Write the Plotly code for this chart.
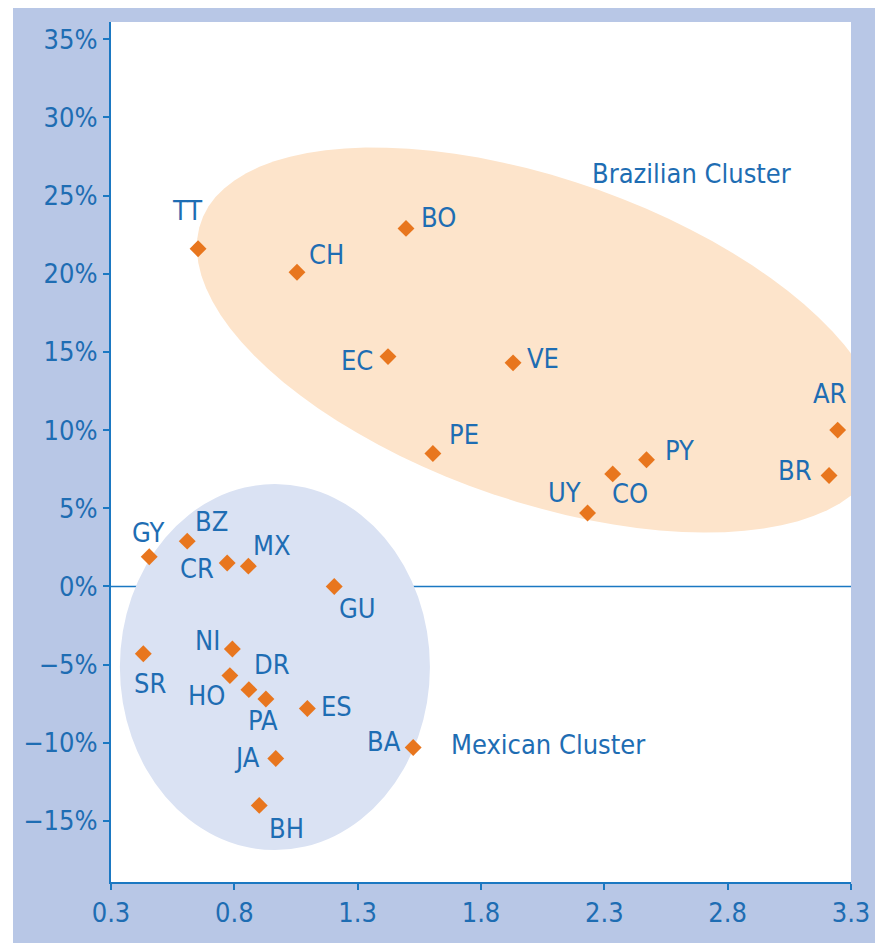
import numpy as np
import plotly.graph_objects as go

# country codes with x value and y value (%)
CODES = ['TT', 'CH', 'BO', 'EC', 'VE', 'PE', 'AR', 'BR', 'PY', 'CO', 'UY',
         'GY', 'BZ', 'CR', 'MX', 'GU', 'NI', 'SR', 'HO', 'DR', 'PA', 'ES',
         'BA', 'JA', 'BH']
X_VALS = [0.653, 1.054, 1.496, 1.423, 1.930, 1.605, 3.246, 3.211, 2.471, 2.334, 2.232,
          0.455, 0.609, 0.771, 0.857, 1.205, 0.792, 0.431, 0.782, 0.859, 0.928, 1.096,
          1.525, 0.968, 0.901]
Y_VALS = [21.6, 20.1, 22.9, 14.7, 14.3, 8.5, 10.0, 7.1, 8.1, 7.2, 4.7,
          1.9, 2.9, 1.5, 1.3, 0.0, -4.0, -4.3, -5.7, -6.6, -7.2, -7.8,
          -10.3, -11.0, -14.0]

CLUSTER_NAMES = ['Brazilian Cluster', 'Mexican Cluster']
CLUSTER_LABEL_X = [2.655, 2.071]
CLUSTER_LABEL_Y = [26.4, -10.1]

X_TICKS = [0.3, 0.8, 1.3, 1.8, 2.3, 2.8, 3.3]
Y_TICKS = [-15, -10, -5, 0, 5, 10, 15, 20, 25, 30, 35]

# label offsets in pixels (dx right, dy down)
LABEL_OFFSET = {
    'TT': (-11, -38), 'CH': (30, -18), 'BO': (32, -11), 'EC': (-31, 4),
    'VE': (30, -4), 'PE': (31, -19), 'AR': (-8, -37), 'BR': (-34, -5),
    'PY': (33, -9), 'CO': (17, 20), 'UY': (-23, -20), 'GY': (-1, -24),
    'BZ': (24, -20), 'CR': (-30, 5), 'MX': (24, -21), 'GU': (23, 22),
    'NI': (-25, -9), 'SR': (7, 30), 'HO': (-23, 20), 'DR': (23, -25),
    'PA': (-3, 21), 'ES': (29, -2), 'BA': (-29, -6), 'JA': (-29, -1),
    'BH': (27, 23),
}

BLUE_TXT = '#1e6db3'
AXIS_BLUE = '#1b78c2'
ORANGE = '#e8761e'
FONT = 'DejaVu Sans Condensed'

# page has an 8px body margin, figure is sized to fit inside the window
W, H = 875, 935
M = dict(l=103, r=32, t=14, b=61)
XR = [0.3, 3.3]
YR = [-18.9, 36.1]
PW = W - M['l'] - M['r']
PH = H - M['t'] - M['b']
px_x = PW / (XR[1] - XR[0])
px_y = PH / (YR[1] - YR[0])


def ellipse_path(cx, cy, a, b, ang_deg, n=90):
    # a, b in pixels; angle clockwise on screen
    t = np.linspace(0, 2 * np.pi, n)
    th = np.radians(ang_deg)
    dx = a * np.cos(t) * np.cos(th) - b * np.sin(t) * np.sin(th)
    dy = a * np.cos(t) * np.sin(th) + b * np.sin(t) * np.cos(th)
    xs = cx + dx / px_x
    ys = cy - dy / px_y
    pts = [f'{x:.4f},{y:.4f}' for x, y in zip(xs, ys)]
    return 'M' + ' L'.join(pts) + ' Z'


def pct(v):
    return (f'{v}%').replace('-', '\u2212')


fig = go.Figure()
fig.add_trace(go.Scatter(
    x=X_VALS, y=Y_VALS, mode='markers',
    marker=dict(symbol='diamond', size=13, color=ORANGE),
    hoverinfo='text', text=CODES, showlegend=False,
))

shapes = [
    # thin white strip at the far left
    dict(type='rect', xref='paper', yref='paper', layer='below',
         x0=-M['l'] / PW, x1=(5 - M['l']) / PW, y0=-M['b'] / PH, y1=(PH + M['t']) / PH,
         fillcolor='white', line=dict(width=0)),
    # zero line
    dict(type='line', xref='x', yref='y', layer='below',
         x0=XR[0], x1=XR[1], y0=0, y1=0, line=dict(color=AXIS_BLUE, width=1.5)),
    # Brazilian cluster
    dict(type='path', xref='x', yref='y', layer='below',
         path=ellipse_path(2.039, 15.76, 359, 161, 19.2),
         fillcolor='#fde4cb', line=dict(width=0)),
    # Mexican cluster
    dict(type='circle', xref='x', yref='y', layer='below',
         x0=0.336, x1=1.593, y0=-16.86, y1=6.55,
         fillcolor='#dae2f3', line=dict(width=0)),
]

annotations = []
for code, x, y in zip(CODES, X_VALS, Y_VALS):
    dx, dy = LABEL_OFFSET[code]
    annotations.append(dict(
        x=x, y=y, text=code, showarrow=False, xshift=dx, yshift=-dy,
        xanchor='center', yanchor='middle',
        font=dict(family=FONT, size=27, color=BLUE_TXT),
    ))
for name, x, y in zip(CLUSTER_NAMES, CLUSTER_LABEL_X, CLUSTER_LABEL_Y):
    annotations.append(dict(
        x=x, y=y, text=name, showarrow=False,
        xanchor='center', yanchor='middle',
        font=dict(family=FONT, size=27, color=BLUE_TXT),
    ))

fig.update_layout(
    width=W, height=H, margin=M,
    paper_bgcolor='#b8c7e6', plot_bgcolor='white',
    font=dict(family=FONT, size=27, color=BLUE_TXT),
    shapes=shapes, annotations=annotations,
    xaxis=dict(range=XR, tickvals=X_TICKS, ticktext=[f'{v:.1f}' for v in X_TICKS],
               showgrid=False, zeroline=False, automargin=False,
               showline=True, linecolor=AXIS_BLUE, linewidth=2,
               ticks='outside', ticklen=6, tickcolor=AXIS_BLUE, tickwidth=1.5),
    yaxis=dict(range=YR, tickvals=Y_TICKS, ticktext=[pct(v) for v in Y_TICKS],
               showgrid=False, zeroline=False, automargin=False,
               showline=True, linecolor=AXIS_BLUE, linewidth=2,
               ticks='outside', ticklen=6, tickcolor=AXIS_BLUE, tickwidth=1.5),
)

fig.write_html('out.html')
